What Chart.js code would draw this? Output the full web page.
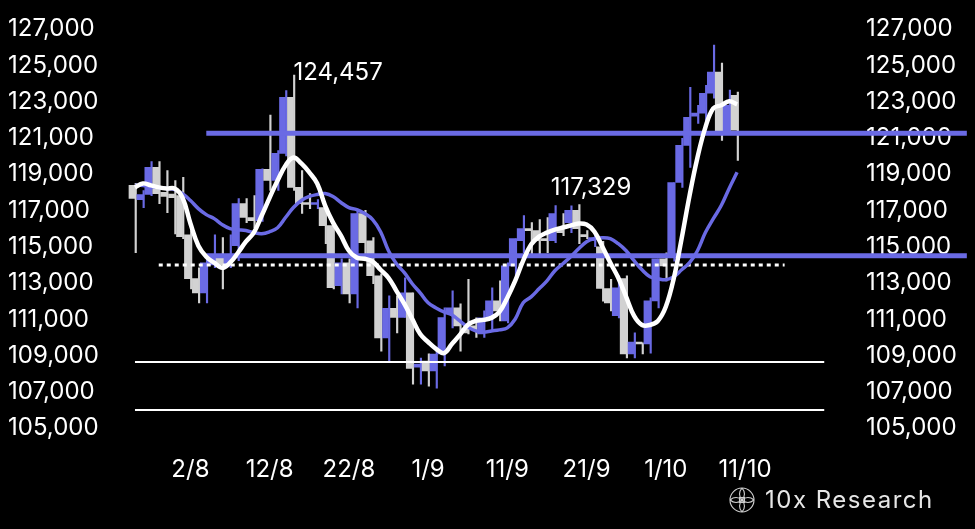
<!DOCTYPE html>
<html>
<head>
<meta charset="utf-8">
<script src="https://cdn.jsdelivr.net/npm/chart.js@4.4.1/dist/chart.umd.min.js"></script>
<style>
  html, body { margin: 0; padding: 0; background: #000; }
  #wrap { width: 975px; height: 529px; }
</style>
</head>
<body>
<div id="wrap"><canvas id="myChart" width="975" height="529"></canvas></div>
<script>
// daily candles, first one is 26/7
const startDate = new Date(2025, 6, 26);

const opens = [118380, 117600, 117880, 119370, 118000, 117900, 117820, 115650, 113240, 112460,
  114000, 114500, 113950, 115060, 117380, 116610, 116440, 119260, 118650, 120150,
  123240, 118270, 117380, 117330, 117160, 116160, 112850, 114120, 112400, 116830,
  115330, 113400, 109970, 111600, 111100, 112460, 108370, 108700, 108150, 109090,
  111360, 111630, 110500, 110640, 110200, 111080, 112020, 110910, 113950, 115340,
  116000, 115890, 115450, 115340, 116000, 116330, 117000, 115670, 115340, 115000,
  112700, 111200, 113240, 109090, 109700, 109640, 112020, 114340, 114400, 118540,
  120590, 122190, 122360, 123460, 124620, 121300, 123350];
const highs = [118490, 118100, 119700, 119700, 119200, 118650, 118820, 115890, 113840, 114400,
  115650, 115500, 115650, 117660, 117660, 117820, 119300, 122250, 120300, 123600,
  124457, 119200, 117930, 117600, 117160, 116330, 114340, 114340, 117000, 117000,
  115500, 113510, 112300, 112300, 113290, 112460, 108870, 109100, 109420, 111630,
  112570, 111850, 113200, 111080, 111470, 112740, 113120, 114120, 115450, 116720,
  116330, 116500, 116610, 117270, 116830, 117250, 117329, 115890, 115700, 115300,
  113200, 113400, 113400, 110250, 109700, 112190, 114340, 114670, 118540, 120980,
  123790, 122800, 123900, 126120, 125120, 123630, 123520];
const lows = [114670, 117160, 117820, 117380, 116880, 115700, 115450, 112680, 111910, 111910,
  113840, 112680, 113840, 114230, 116330, 116050, 116400, 118100, 118100, 120000,
  118100, 116830, 117100, 117100, 115170, 112680, 112400, 111910, 111630, 114620,
  112960, 109250, 108700, 110250, 111100, 107430, 107430, 107320, 107210, 108430,
  110530, 109250, 110200, 110000, 110000, 110360, 110910, 110800, 113400, 114670,
  114500, 114500, 114670, 115230, 115610, 115780, 115170, 115450, 115000, 112000,
  111470, 111080, 108870, 108870, 109100, 109140, 111630, 113120, 114200, 118270,
  119370, 121800, 121690, 123190, 120860, 121250, 119760];
const closes = [117660, 117880, 119370, 117930, 117770, 117710, 115560, 113240, 112460, 114120,
  114500, 114000, 114500, 117380, 116610, 116440, 119260, 118650, 120150, 123240,
  118270, 117380, 117330, 117380, 116160, 112740, 114120, 112400, 116830, 115220,
  113400, 109970, 111600, 111100, 112460, 108300, 108540, 108150, 109090, 111100,
  111630, 110640, 110250, 110470, 111080, 112020, 111470, 113950, 115450, 116000,
  115890, 115340, 115340, 116830, 115780, 117000, 116000, 115560, 115500, 112700,
  111900, 112740, 109090, 109750, 109640, 112020, 114340, 113950, 118540, 120590,
  122130, 122360, 123460, 124620, 121300, 122800, 121420];

// moving averages
const maFast = [118270, 118490, 118380, 118270, 118210, 118210, 117710, 116280, 115060, 114450,
  114120, 113840, 114120, 114670, 115280, 115780, 116720, 117710, 118650, 119480,
  119920, 119590, 119100, 118490, 117270, 116330, 115610, 114780, 114400, 114340,
  114180, 113730, 113290, 112570, 111850, 111020, 110190, 109750, 109370, 109140,
  109640, 110140, 110690, 110910, 110970, 111080, 111410, 112190, 113130, 114230,
  115120, 115560, 115780, 115940, 116060, 116170, 116280, 116220, 115830, 115000,
  114120, 113290, 112240, 111190, 110690, 110690, 110910, 111690, 113240, 115450,
  117820, 119920, 121580, 122630, 122800, 123020, 122850];
const maSlow = [118380, 118380, 118320, 118270, 118210, 118150, 117930, 117550, 117100, 116770,
  116550, 116220, 116000, 115940, 115890, 115780, 115720, 115830, 116050, 116610,
  117160, 117550, 117770, 117880, 117930, 117770, 117440, 117160, 117050, 116830,
  116500, 115830, 114780, 114060, 113570, 112960, 112460, 111910, 111630, 111410,
  111250, 110910, 110580, 110360, 110300, 110360, 110420, 110530, 111020, 111910,
  112240, 112680, 113120, 113680, 114060, 114450, 114890, 115280, 115450, 115500,
  115450, 115170, 114780, 114230, 113730, 113350, 113240, 113180, 113350, 113730,
  114120, 114780, 115780, 116550, 117270, 118210, 119100];

// support / resistance levels
const resistLevels = [121250, 114500];
const dottedLevel = 114000;
const floorLevels = [108650, 106000];

const tickLabels = ["2/8", "12/8", "22/8", "1/9", "11/9", "21/9", "1/10", "11/10"];
const peakLabels = ["124,457", "117,329"];
const peakValues = [124457, 117329];
const peakIndex = [20, 56];

const BLUE = "#6a6ae4";
const GREY = "#d2d2d2";
const FONT = "Inter";

function dayOf(label) {
  const [d, m] = label.split("/").map(Number);
  return Math.round((new Date(2025, m - 1, d) - startDate) / 86400000);
}
const tickDays = tickLabels.map(dayOf);

const candleCol = opens.map((o, i) => closes[i] >= o ? BLUE : GREY);

function hLine(value, x0, x1) {
  return [{ x: x0, y: value }, { x: x1, y: value }];
}

const overlay = {
  id: "overlay",
  afterDatasetsDraw(c) {
    const ctx = c.ctx, xs = c.scales.x, ys = c.scales.y;
    ctx.save();
    ctx.fillStyle = "#fff";
    ctx.font = "24px " + FONT;
    ctx.textAlign = "left";
    ctx.textBaseline = "middle";
    const offs = [[0, -2], [-28, -17]];
    peakLabels.forEach((t, k) => {
      ctx.fillText(t, xs.getPixelForValue(peakIndex[k]) + offs[k][0], ys.getPixelForValue(peakValues[k]) + offs[k][1]);
    });

    // watermark
    const cx = 742, cy = 500, r = 12;
    ctx.strokeStyle = "#cfcfcf";
    ctx.lineWidth = 1.1;
    ctx.beginPath(); ctx.arc(cx, cy, r, 0, Math.PI * 2); ctx.stroke();
    ctx.save();
    ctx.beginPath(); ctx.arc(cx, cy, r, 0, Math.PI * 2); ctx.clip();
    for (let a = 0; a < 4; a++) {
      const ang = a * Math.PI / 2 + Math.PI / 4;
      ctx.beginPath();
      ctx.arc(cx + Math.cos(ang) * r * 0.7, cy + Math.sin(ang) * r * 0.7, r * 0.7, 0, Math.PI * 2);
      ctx.stroke();
    }
    ctx.restore();
    ctx.strokeRect(cx - 2.5, cy - 2.5, 5, 5);
    ctx.fillStyle = "#e6e6e6";
    ctx.font = "24px " + FONT;
    ctx.letterSpacing = "1.5px";
    ctx.fillText("10x Research", 765, cy + 1);
    ctx.restore();
  }
};

const axisTicks = {
  stepSize: 2000,
  color: "#fff",
  font: { size: 24, family: FONT },
  callback: v => v.toLocaleString("en-US")
};

const ctx = document.getElementById("myChart").getContext("2d");
new Chart(ctx, {
  type: "bar",
  data: {
    datasets: [
      {
        label: "wick",
        data: opens.map((o, i) => ({ x: i, y: [lows[i], highs[i]] })),
        backgroundColor: candleCol,
        barThickness: 1.5,
        order: 6
      },
      {
        label: "body",
        data: opens.map((o, i) => ({ x: i, y: [o, closes[i]] })),
        backgroundColor: candleCol,
        barThickness: 6,
        minBarLength: 2,
        order: 5
      },
      ...resistLevels.map(v => ({
        type: "line",
        data: hLine(v, 9, 105),
        borderColor: BLUE,
        borderWidth: 5,
        pointRadius: 0,
        clip: false,
        order: 4
      })),
      {
        type: "line",
        data: hLine(dottedLevel, 3, 82),
        borderColor: "#fff",
        borderWidth: 3,
        borderDash: [4, 4],
        pointRadius: 0,
        order: 4
      },
      ...floorLevels.map(v => ({
        type: "line",
        data: hLine(v, 0, 87),
        borderColor: "#fff",
        borderWidth: 2,
        pointRadius: 0,
        order: 4
      })),
      {
        type: "line",
        data: maSlow.map((v, i) => ({ x: i, y: v })),
        borderColor: BLUE,
        borderWidth: 3.5,
        pointRadius: 0,
        tension: 0.4,
        order: 2
      },
      {
        type: "line",
        data: maFast.map((v, i) => ({ x: i, y: v })),
        borderColor: "#fff",
        borderWidth: 4.5,
        pointRadius: 0,
        tension: 0.4,
        order: 1
      }
    ]
  },
  options: {
    responsive: false,
    devicePixelRatio: 1,
    animation: false,
    layout: { padding: { left: 8, right: 12, top: 29, bottom: 26 } },
    plugins: { legend: { display: false }, tooltip: { enabled: false } },
    scales: {
      x: {
        type: "linear",
        min: -2.9,
        max: 90,
        offset: false,
        grid: { display: false },
        border: { display: false },
        afterBuildTicks: axis => { axis.ticks = tickDays.map(v => ({ value: v })); },
        ticks: {
          color: "#fff",
          font: { size: 24, family: FONT },
          padding: 19,
          autoSkip: false,
          maxRotation: 0,
          callback: v => tickLabels[tickDays.indexOf(v)]
        }
      },
      y: {
        position: "left",
        min: 105000,
        max: 127000,
        grid: { display: false },
        border: { display: false },
        afterFit: a => { a.width = 104; },
        ticks: { ...axisTicks, padding: 12, crossAlign: "far" }
      },
      y2: {
        position: "right",
        min: 105000,
        max: 127000,
        z: 1,
        grid: { display: false },
        border: { display: false },
        afterFit: a => { a.width = 115; },
        ticks: { ...axisTicks, padding: 10 }
      }
    }
  },
  plugins: [overlay]
});
</script>
</body>
</html>
